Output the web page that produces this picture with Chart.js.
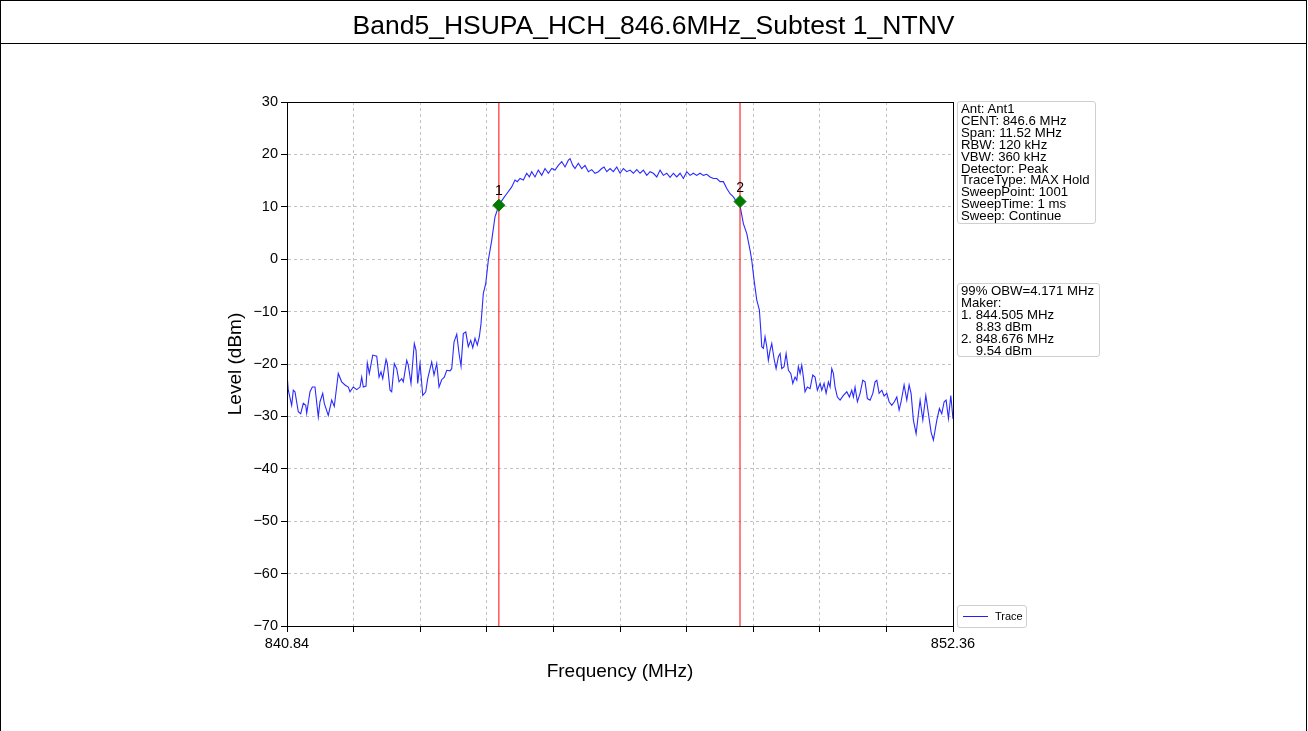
<!DOCTYPE html>
<html><head><meta charset="utf-8">
<script src="https://cdn.jsdelivr.net/npm/chart.js@4.4.1/dist/chart.umd.min.js"></script>
<style>
html,body{margin:0;padding:0;background:#fff;width:1308px;height:731px;overflow:hidden;font-family:"Liberation Sans",Arial,sans-serif}
#frame{position:absolute;left:0;top:0;width:1307px;height:780px;border:1px solid #000;box-sizing:border-box}
#title{position:absolute;left:0;top:0;width:1307px;height:44px;border-bottom:1px solid #000;box-sizing:border-box;text-align:center;font-size:26.5px;line-height:50px;color:#000}
#wrap{position:absolute;left:0;top:0;width:1308px;height:731px}
.box{position:absolute;border:1px solid #cfcfcf;border-radius:3px;background:#fff;font-size:13.2px;line-height:11.9px;white-space:pre;color:#000}
#legend{position:absolute;left:957px;top:605px;width:68px;height:21px;border:1px solid #cfcfcf;border-radius:3px;background:#fff;font-size:11px;color:#000}
#legend .ln{position:absolute;left:5px;top:10px;width:25px;height:0;border-top:1.5px solid #2020ff}
#legend .tx{position:absolute;left:37px;top:4px}
</style>
</head><body>
<div id="wrap"><canvas id="c" width="1308" height="731"></canvas></div>
<div id="frame"></div>
<div id="title">Band5_HSUPA_HCH_846.6MHz_Subtest 1_NTNV</div>
<div class="box" id="info1" style="left:957px;top:101px;width:131px;height:117px;padding:1px 3px 3px 3px;">Ant: Ant1
CENT: 846.6 MHz
Span: 11.52 MHz
RBW: 120 kHz
VBW: 360 kHz
Detector: Peak
TraceType: MAX Hold
SweepPoint: 1001
SweepTime: 1 ms
Sweep: Continue</div>
<div class="box" id="info2" style="left:957px;top:283px;width:135px;height:69px;padding:1px 3px 2px 3px;">99% OBW=4.171 MHz
Maker:
1. 844.505 MHz
    8.83 dBm
2. 848.676 MHz
    9.54 dBm</div>
<div id="legend"><div class="ln"></div><div class="tx">Trace</div></div>
<script>
// ---- data ----
const xMin = 840.84, xMax = 852.36;
const yMin = -70, yMax = 30;
const xTicks = [840.84, 841.992, 843.144, 844.296, 845.448, 846.6, 847.752, 848.904, 850.056, 851.208, 852.36];
const xTickLabels = ['840.84', '', '', '', '', '', '', '', '', '', '852.36'];
const yTicks = [-70, -60, -50, -40, -30, -20, -10, 0, 10, 20, 30];

const traceFreq = [
840.84, 840.862, 840.921, 840.949, 840.978, 841.035, 841.077, 841.122, 841.164, 841.181, 841.238, 841.278, 841.324, 841.381, 841.411, 841.458, 841.485, 841.554, 841.613, 841.658,
841.727, 841.786, 841.843, 841.900, 841.930, 841.987, 842.046, 842.103, 842.132, 842.160, 842.207, 842.229, 842.264, 842.323, 842.392, 842.432, 842.466, 842.496, 842.553, 842.575,
842.622, 842.651, 842.696, 842.738, 842.778, 842.824, 842.852, 842.911, 842.938, 842.985, 843.042, 843.072, 843.101, 843.141, 843.188, 843.240, 843.274, 843.343, 843.383, 843.430,
843.470, 843.516, 843.561, 843.603, 843.660, 843.689, 843.729, 843.776, 843.816, 843.850, 843.890, 843.932, 843.976, 844.018, 844.053, 844.092, 844.132, 844.167, 844.196, 844.236,
844.278, 844.322, 844.381, 844.438, 844.505,
844.582, 844.641, 844.727, 844.784, 844.824, 844.871, 844.928, 844.987, 845.032, 845.073, 845.130, 845.187, 845.246, 845.303, 845.361, 845.419, 845.476, 845.533, 845.592, 845.649,
845.707, 845.736, 845.783, 845.822, 845.879, 845.938, 845.995, 846.053, 846.111, 846.168, 846.226, 846.284, 846.324, 846.371, 846.428, 846.485, 846.544, 846.601, 846.658, 846.717,
846.774, 846.831, 846.890, 846.947, 847.004, 847.063, 847.120, 847.177, 847.236, 847.293, 847.350, 847.409, 847.466, 847.523, 847.582, 847.639, 847.696, 847.755, 847.812, 847.869,
847.928, 847.985, 848.042, 848.101, 848.158, 848.215, 848.274, 848.331, 848.388, 848.447, 848.504, 848.561, 848.620, 848.676,
848.734, 848.793, 848.850, 848.879, 848.919, 848.966, 849.011, 849.035, 849.052, 849.080, 849.109, 849.139, 849.166, 849.196, 849.225, 849.265, 849.300, 849.340, 849.369, 849.398,
849.438, 849.473, 849.513, 849.554, 849.589, 849.628, 849.658, 849.685, 849.715, 849.744, 849.772, 849.801, 849.841, 849.888, 849.934, 849.974, 850.014, 850.061, 850.090, 850.130,
850.165, 850.205, 850.234, 850.263, 850.291, 850.320, 850.360, 850.407, 850.464, 850.523, 850.568, 850.609, 850.637, 850.666, 850.706, 850.753, 850.800, 850.839, 850.879, 850.926,
850.973, 851.012, 851.042, 851.082, 851.129, 851.168, 851.215, 851.255, 851.301, 851.346, 851.388, 851.428, 851.462, 851.514, 851.561, 851.601, 851.635, 851.675, 851.722, 851.762,
851.791, 851.838, 851.890, 851.935, 851.981, 852.021, 852.080, 852.125, 852.166, 852.207, 852.241, 852.281, 852.322, 852.36
];
const traceLevel = [
-21.8, -25.0, -27.9, -25.0, -25.3, -29.1, -29.5, -27.5, -27.9, -29.4, -25.3, -24.4, -24.4, -30.1, -27.2, -25.6, -27.5, -29.8, -26.9, -28.1,
-21.8, -23.4, -24.0, -24.4, -25.3, -24.4, -24.9, -24.4, -22.5, -24.4, -24.2, -19.8, -21.8, -18.3, -18.5, -22.5, -21.5, -22.8, -19.1, -19.9,
-25.0, -25.3, -19.9, -20.9, -23.4, -22.8, -23.4, -19.3, -20.2, -23.7, -16.1, -17.4, -23.7, -19.9, -26.0, -25.3, -22.8, -19.6, -22.1, -19.9,
-24.4, -23.0, -22.5, -21.2, -21.3, -20.9, -15.8, -14.3, -18.0, -20.4, -14.2, -13.9, -16.7, -15.5, -16.9, -15.1, -16.4, -14.8, -12.3, -6.5,
-4.6, -0.2, 3.6, 8.1, 10.3,
11.6, 12.5, 13.8, 15.1, 14.8, 15.4, 15.1, 16.4, 15.7, 16.7, 15.7, 17.0, 16.0, 17.3, 16.4, 17.3, 17.0, 17.9, 18.6, 17.6,
18.9, 19.2, 17.9, 17.3, 18.3, 17.3, 17.9, 16.7, 17.1, 16.4, 16.7, 17.3, 17.6, 16.7, 17.3, 16.7, 17.6, 16.4, 17.3, 16.7,
17.0, 16.4, 17.1, 16.4, 17.0, 16.0, 16.7, 16.4, 15.7, 17.0, 16.0, 16.4, 15.6, 16.4, 15.7, 16.4, 15.4, 16.7, 16.0, 16.4,
16.0, 16.4, 16.0, 16.2, 15.7, 15.4, 15.4, 14.8, 14.8, 13.5, 12.5, 11.9, 10.9, 10.2,
6.8, 4.9, 1.7, -0.2, -4.0, -7.8, -9.7, -13.5, -16.7, -17.0, -14.8, -16.7, -19.3, -17.4, -16.1, -19.0, -20.9, -18.6, -18.0, -20.9,
-20.5, -18.0, -21.2, -21.8, -23.7, -22.5, -23.1, -20.5, -21.8, -20.2, -22.5, -25.3, -24.4, -24.7, -22.1, -22.5, -25.0, -23.7, -25.0, -23.7,
-25.6, -23.4, -24.4, -20.9, -21.8, -24.4, -26.3, -26.9, -26.0, -25.3, -26.3, -25.0, -26.3, -24.4, -27.2, -25.6, -23.1, -23.4, -26.6, -26.9,
-25.6, -23.4, -23.1, -25.6, -25.0, -26.1, -25.6, -27.2, -27.9, -27.2, -26.3, -28.8, -27.2, -24.0, -26.9, -24.0, -25.6, -30.7, -33.3, -29.5,
-26.9, -30.7, -26.0, -29.5, -33.0, -34.5, -30.7, -28.5, -29.5, -27.2, -26.9, -30.4, -26.0, -30.5
];

const markerFreq = [844.505, 848.676];
const markerLevel = [10.3, 11.0];   // plotted marker positions
const markerNames = ['1', '2'];

// ---- chart ----
const tracePts = traceFreq.map((f, i) => ({x: f, y: traceLevel[i]}));
const markerPts = markerFreq.map((f, i) => ({x: f, y: markerLevel[i]}));
const vlineSets = markerFreq.map(f => ({
  data: [{x: f, y: yMin}, {x: f, y: yMax}],
  borderColor: '#ff0000', borderWidth: 1, pointRadius: 0, showLine: true, fill: false
}));

const frameAndLabels = {
  id: 'frameAndLabels',
  afterDatasetsDraw(chart) {
    const {ctx, scales} = chart;
    ctx.save();
    ctx.fillStyle = '#000';
    ctx.font = '14px "Liberation Sans", Arial, sans-serif';
    ctx.textAlign = 'center';
    ctx.textBaseline = 'alphabetic';
    markerFreq.forEach((f, i) => {
      const px = scales.x.getPixelForValue(f);
      const py = scales.y.getPixelForValue(markerLevel[i]);
      ctx.fillText(markerNames[i], px, py - 10);
    });
    ctx.restore();
  },
  afterDraw(chart) {
    const {ctx, chartArea: a} = chart;
    ctx.save();
    ctx.strokeStyle = '#000';
    ctx.lineWidth = 1;
    ctx.strokeRect(Math.round(a.left) + 0.5, Math.round(a.top) + 0.5, Math.round(a.right - a.left), Math.round(a.bottom - a.top));
    ctx.restore();
  }
};

const font = '"Liberation Sans", Arial, sans-serif';
new Chart(document.getElementById('c'), {
  type: 'scatter',
  data: {
    datasets: [
      {data: markerPts, pointStyle: 'rectRot', pointRadius: 6, pointBackgroundColor: '#007a00', pointBorderColor: '#007a00', showLine: false},
      ...vlineSets,
      {data: tracePts, borderColor: '#2a2aff', borderWidth: 1.1, pointRadius: 0, showLine: true, fill: false, tension: 0}
    ]
  },
  options: {
    responsive: false,
    animation: false,
    events: [],
    layout: {padding: {left: 220, right: 355, top: 102, bottom: 44}},
    plugins: {legend: {display: false}, tooltip: {enabled: false}},
    scales: {
      x: {
        type: 'linear', min: xMin, max: xMax,
        afterBuildTicks(scale) { scale.ticks = xTicks.map(v => ({value: v})); },
        afterFit(scale) { scale.height = 61; },
        ticks: {
          autoSkip: false, maxRotation: 0, padding: 3,
          color: '#000', font: {family: font, size: 14.5},
          callback: (v, i) => xTickLabels[i]
        },
        grid: {color: '#b3b3b3', lineWidth: 0.8, tickColor: '#000', tickLength: 6, tickWidth: 1},
        border: {display: true, color: '#000', width: 1, dash: [3, 3]},
        title: {display: true, text: 'Frequency (MHz)', color: '#000', font: {family: font, size: 19}, padding: {top: 4, bottom: 4}}
      },
      y: {
        type: 'linear', min: yMin, max: yMax,
        afterBuildTicks(scale) { scale.ticks = yTicks.map(v => ({value: v})); },
        afterFit(scale) { scale.width = 67; },
        ticks: {
          padding: 3, color: '#000', font: {family: font, size: 14.5},
          callback: v => String(v).replace('-', '\u2212')
        },
        grid: {color: '#b3b3b3', lineWidth: 0.8, tickColor: '#000', tickLength: 6, tickWidth: 1},
        border: {display: true, color: '#000', width: 1, dash: [3, 3]},
        title: {display: true, text: 'Level (dBm)', color: '#000', font: {family: font, size: 19}, padding: {top: 4, bottom: 4}}
      }
    }
  },
  plugins: [frameAndLabels]
});
</script>
</body></html>
